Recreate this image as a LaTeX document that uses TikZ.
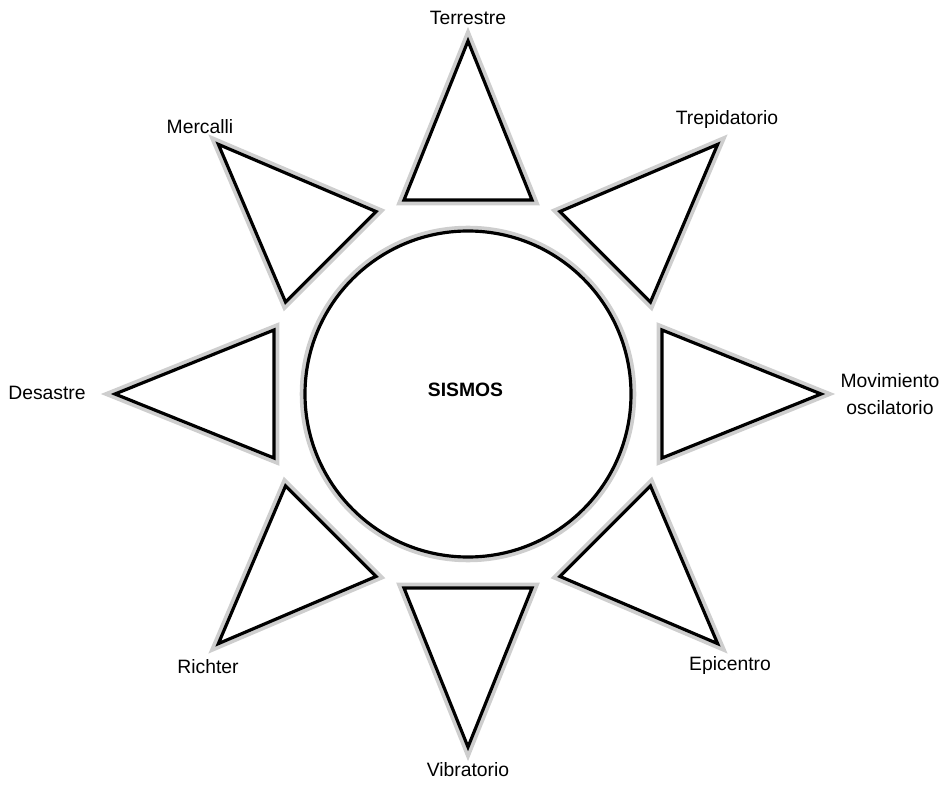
\documentclass[tikz,border=0pt]{standalone}
\usepackage{fontspec}
\setmainfont{Liberation Sans}
\usetikzlibrary{positioning}
\tikzstyle{ray} = [draw=black, line width=1.8pt, line join=miter, fill=white,
preaction={draw=gray!55, line width=6pt, opacity=0.7}]
\tikzstyle{label} = [font=\fontsize{11}{15}\selectfont, align=center, inner sep=1pt]

\begin{document}
\begin{tikzpicture}
		
		% canvas (same proportions as the original)
		\useasboundingbox (-9.36,-7.8) rectangle (9.56,7.88);
		
		% Rays around the centre
		\foreach \a in {0,45,...,315}
			\draw[ray, rotate=\a] (3.88,1.28) -- (7.06,0) -- (3.88,-1.28) -- cycle;
		
		% Centre circle
		\draw[ray] (0,0) circle (3.26);
		\node[label, font=\fontsize{11}{15}\selectfont\bfseries] (sismos) at (-0.05,0.08) {SISMOS};
		
		% Ray labels
		\node[label] (terrestre) at (0,7.52) {Terrestre};
		\node[label] (trepidatorio) at (5.18,5.48) {Trepidatorio};
		\node[label] (movimiento) at (8.44,0) {Movimiento\\oscilatorio};
		\node[label] (epicentro) at (5.24,-5.42) {Epicentro};
		\node[label] (vibratorio) at (0,-7.52) {Vibratorio};
		\node[label] (richter) at (-5.2,-5.46) {Richter};
		\node[label] (desastre) at (-8.42,0.02) {Desastre};
		\node[label] (mercalli) at (-5.36,5.34) {Mercalli};
		
	\end{tikzpicture}
\end{document}
